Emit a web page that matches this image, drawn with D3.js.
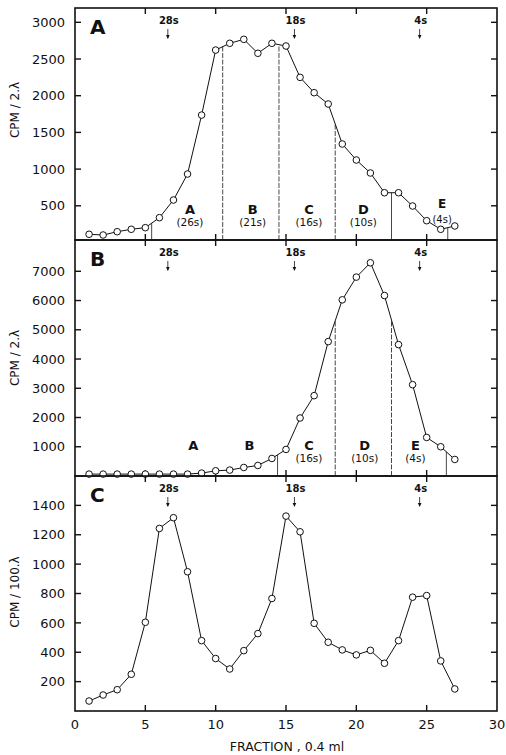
<!DOCTYPE html>
<meta charset="utf-8">
<head>
    <script type="text/javascript" src="https://d3js.org/d3.v7.min.js"></script>
    <style>
        body { margin: 0; background: #fff; }
        text { font-family: "DejaVu Sans", sans-serif; fill: #111; }
    </style>
</head>
<body>
<div id="chart"></div>
<script>
    // fraction numbers (x)
    var fractions = [1, 2, 3, 4, 5, 6, 7, 8, 9, 10, 11, 12, 13, 14, 15, 16, 17, 18, 19, 20, 21, 22, 23, 24, 25, 26, 27];

    // panel A, CPM / 2 lambda
    var cpmA = [112, 102, 147, 180, 202, 338, 579, 933, 1736, 2622, 2714, 2768, 2578, 2714, 2677,
        2250, 2041, 1887, 1342, 1124, 947, 678, 678, 497, 297, 180, 225];
    // panel B, CPM / 2 lambda
    var cpmB = [65, 65, 65, 65, 65, 65, 65, 65, 99, 178, 202, 291, 360, 600, 908,
        1983, 2747, 4596, 6024, 6801, 7291, 6171, 4493, 3123, 1318, 1000, 565];
    // panel C, CPM / 100 lambda
    var cpmC = [68, 109, 145, 250, 604, 1243, 1316, 948, 479, 357, 286, 411, 527, 766, 1327,
        1220, 597, 468, 416, 382, 413, 325, 479, 775, 786, 341, 150];

    // cut lines between pooled regions
    var cutsA = [5.45, 10.5, 14.5, 18.5, 22.5, 26.5];
    var cutsADashed = [false, true, true, true, false, false];
    var cutsB = [14.4, 18.5, 22.5, 26.4];
    var cutsBDashed = [false, true, true, false];

    // region labels
    var regionNames = ["A", "B", "C", "D", "E"];
    var regionSizesA = ["(26s)", "(21s)", "(16s)", "(10s)", "(4s)"];
    var regionPosA = [8.17, 12.63, 16.63, 20.5, 26.1];
    var regionSizesB = ["", "", "(16s)", "(10s)", "(4s)"];
    var regionPosB = [8.41, 12.4, 16.63, 20.6, 24.2];

    // sedimentation markers
    var markerNames = ["28s", "18s", "4s"];
    var markerPos = [6.6, 15.6, 24.5];

    var yTicksA = [500, 1000, 1500, 2000, 2500, 3000];
    var yTicksB = [1000, 2000, 3000, 4000, 5000, 6000, 7000];
    var yTicksC = [200, 400, 600, 800, 1000, 1200, 1400];
    var xTicks = [0, 5, 10, 15, 20, 25, 30];

    var w = 506, h = 755;
    var svg = d3.select("#chart").append("svg").attr("width", w).attr("height", h);

    var x = d3.scaleLinear().domain([0, 30]).range([75, 497]);

    var panels = [
        {letter: "A", values: cpmA, top: 8, bottom: 240, domain: [34, 3195], ticks: yTicksA, title: "CPM / 2.λ", titleY: 110,
            cuts: cutsA, dashed: cutsADashed, regPos: regionPosA, regSub: regionSizesA, eLift: 6},
        {letter: "B", values: cpmB, top: 240, bottom: 476, domain: [0, 8070], ticks: yTicksB, title: "CPM / 2.λ", titleY: 358,
            cuts: cutsB, dashed: cutsBDashed, regPos: regionPosB, regSub: regionSizesB, eLift: 0},
        {letter: "C", values: cpmC, top: 476, bottom: 711, domain: [0, 1600], ticks: yTicksC, title: "CPM / 100.λ", titleY: 592,
            cuts: null}
    ];

    panels.forEach(function (p) {
        var y = d3.scaleLinear().domain(p.domain).range([p.bottom, p.top]);
        var g = svg.append("g");

        // frame
        g.append("rect").attr("x", x(0)).attr("y", p.top)
            .attr("width", x(30) - x(0)).attr("height", p.bottom - p.top)
            .attr("fill", "none").attr("stroke", "#111").attr("stroke-width", 1.6);

        // inward ticks
        var xt = xTicks.slice(1, 6);
        g.selectAll(".xtb").data(xt).enter().append("line")
            .attr("x1", d => x(d)).attr("x2", d => x(d))
            .attr("y1", p.bottom).attr("y2", p.bottom - 6)
            .attr("stroke", "#111").attr("stroke-width", 1.4);
        g.selectAll(".xtt").data(xt).enter().append("line")
            .attr("x1", d => x(d)).attr("x2", d => x(d))
            .attr("y1", p.top).attr("y2", p.top + 6)
            .attr("stroke", "#111").attr("stroke-width", 1.4);
        g.selectAll(".ytl").data(p.ticks).enter().append("line")
            .attr("x1", x(0)).attr("x2", x(0) + 6)
            .attr("y1", d => y(d)).attr("y2", d => y(d))
            .attr("stroke", "#111").attr("stroke-width", 1.4);
        g.selectAll(".ytr").data(p.ticks).enter().append("line")
            .attr("x1", x(30)).attr("x2", x(30) - 6)
            .attr("y1", d => y(d)).attr("y2", d => y(d))
            .attr("stroke", "#111").attr("stroke-width", 1.4);

        // tick labels
        g.selectAll(".ylab").data(p.ticks).enter().append("text")
            .attr("x", 65).attr("y", d => y(d)).attr("dy", "0.36em")
            .attr("text-anchor", "end").style("font-size", "13px")
            .text(d => d);

        // axis title
        g.append("text")
            .attr("transform", "translate(19," + p.titleY + ") rotate(-90)")
            .attr("text-anchor", "middle").style("font-size", "12px")
            .text(p.title);

        // panel letter
        g.append("text").attr("x", 90).attr("y", p.top + 26)
            .style("font-size", "20px").style("font-weight", "bold")
            .text(p.letter);

        // sedimentation markers
        markerNames.forEach(function (m, i) {
            var mx = x(markerPos[i]);
            g.append("text").attr("x", mx + 1).attr("y", p.top + 16)
                .attr("text-anchor", "middle").style("font-size", "10px").style("font-weight", "bold")
                .text(m);
            g.append("line").attr("x1", mx).attr("x2", mx)
                .attr("y1", p.top + 21).attr("y2", p.top + 30)
                .attr("stroke", "#111").attr("stroke-width", 0.8);
            g.append("path")
                .attr("d", "M" + (mx - 1.8) + "," + (p.top + 27) + "L" + mx + "," + (p.top + 31) + "L" + (mx + 1.8) + "," + (p.top + 27) + "Z")
                .attr("fill", "#111");
        });

        var line = d3.line().x((d, i) => x(fractions[i])).y(d => y(d));

        // cut lines up to the curve
        if (p.cuts) {
            var interp = function (f) {
                var i = d3.bisectLeft(fractions, f);
                var f0 = fractions[i - 1], f1 = fractions[i];
                var t = (f - f0) / (f1 - f0);
                return p.values[i - 1] + t * (p.values[i] - p.values[i - 1]);
            };
            g.selectAll(".cut").data(p.cuts).enter().append("line")
                .attr("x1", d => x(d)).attr("x2", d => x(d))
                .attr("y1", p.bottom).attr("y2", d => y(interp(d)))
                .attr("stroke", "#333").attr("stroke-width", 0.9)
                .attr("stroke-dasharray", (d, i) => p.dashed[i] ? "5,1.5" : null);

            regionNames.forEach(function (r, i) {
                var lift = (r === "E") ? p.eLift : 0;
                g.append("text").attr("x", x(p.regPos[i])).attr("y", p.bottom - 26 - lift)
                    .attr("text-anchor", "middle").style("font-size", (r === "E" && lift) ? "12px" : "13px")
                    .style("font-weight", "bold")
                    .text(r);
                g.append("text").attr("x", x(p.regPos[i])).attr("y", p.bottom - 14 - (lift ? 3 : 0))
                    .attr("text-anchor", "middle").style("font-size", (r === "E" && lift) ? "10px" : "10.5px")
                    .text(p.regSub[i]);
            });
        }

        // data line and open circles
        g.append("path").datum(p.values).attr("d", line)
            .attr("fill", "none").attr("stroke", "#111").attr("stroke-width", 1);
        g.selectAll(".pt").data(p.values).enter().append("circle")
            .attr("cx", (d, i) => x(fractions[i])).attr("cy", d => y(d))
            .attr("r", 3.3).attr("fill", "#fff").attr("stroke", "#111").attr("stroke-width", 1);
    });

    // bottom x tick labels
    svg.selectAll(".xlab").data(xTicks).enter().append("text")
        .attr("x", d => x(d)).attr("y", 729)
        .attr("text-anchor", "middle").style("font-size", "13px")
        .text(d => d);

    svg.append("text").attr("x", 287).attr("y", 751)
        .attr("text-anchor", "middle").style("font-size", "12.5px")
        .text("FRACTION , 0.4 ml");
</script>
</body>
</html>
